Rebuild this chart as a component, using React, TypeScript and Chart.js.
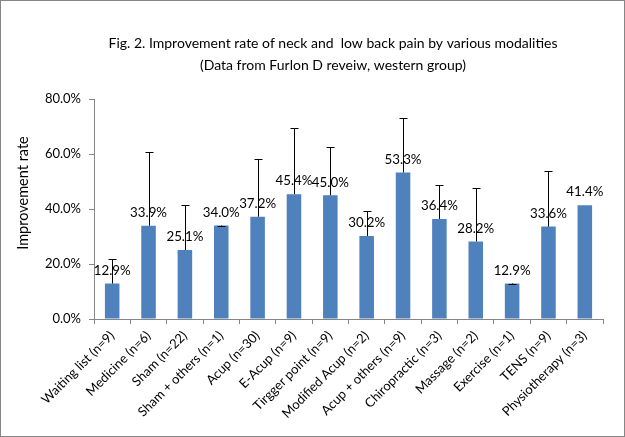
import React, { useEffect, useRef } from 'react';
import { Chart, registerables } from 'chart.js';

Chart.register(...registerables);

const titleLines = [
  'Fig. 2. Improvement rate of neck and  low back pain by various modalities',
  '(Data from Furlon D reveiw, western group)',
];
const yAxisTitle = 'Improvement rate';
const categories = [
  'Waiting list (n=9)',
  'Medicine (n=6)',
  'Sham (n=22)',
  'Sham + others (n=1)',
  'Acup (n=30)',
  'E-Acup (n=9)',
  'Tirgger point (n=9)',
  'Modified Acup (n=2)',
  'Acup + others (n=9)',
  'Chiropractic (n=3)',
  'Massage (n=2)',
  'Exercise (n=1)',
  'TENS (n=9)',
  'Physiotherapy (n=3)',
];
const values = [12.9, 33.9, 25.1, 34.0, 37.2, 45.4, 45.0, 30.2, 53.3, 36.4, 28.2, 12.9, 33.6, 41.4];
const errorPlus: (number | null)[] = [9.1, 27.0, 16.5, 0, 21.1, 24.1, 17.6, 9.2, 19.9, 12.5, 19.6, 0, 20.4, null];
const yTicks = [0, 20, 40, 60, 80];

const FONT = 'Lato, "Liberation Sans", sans-serif';
const AXIS_COLOR = '#868686';
const BAR_COLOR = '#4F81BD';

const extrasPlugin = {
  id: 'extras',
  afterDatasetsDraw(chart: any) {
    const ctx = chart.ctx;
    const meta = chart.getDatasetMeta(0);
    const yScale = chart.scales.y;
    ctx.save();
    // error bars (plus only)
    ctx.strokeStyle = '#000';
    ctx.lineWidth = 1;
    meta.data.forEach((bar: any, i: number) => {
      const e = errorPlus[i];
      if (e === null || e === undefined) return;
      const x = Math.round(bar.x) + 0.5;
      const yTop = Math.round(yScale.getPixelForValue(values[i] + e)) + 0.5;
      const yBar = yScale.getPixelForValue(values[i]);
      ctx.beginPath();
      ctx.moveTo(x, yBar);
      ctx.lineTo(x, yTop);
      ctx.moveTo(x - 4, yTop);
      ctx.lineTo(x + 4, yTop);
      ctx.stroke();
    });
    // data labels
    ctx.fillStyle = '#000';
    ctx.font = `13.3px ${FONT}`;
    ctx.textAlign = 'center';
    ctx.textBaseline = 'middle';
    meta.data.forEach((bar: any, i: number) => {
      ctx.fillText(values[i].toFixed(1) + '%', bar.x, bar.y - 13);
    });
    ctx.restore();
  },
  afterDraw(chart: any) {
    const ctx = chart.ctx;
    ctx.save();
    ctx.fillStyle = '#000';
    ctx.font = `14px ${FONT}`;
    ctx.textAlign = 'center';
    ctx.textBaseline = 'middle';
    ctx.fillText(titleLines[0], 333, 43);
    ctx.fillText(titleLines[1], 333, 65);
    // y axis title
    ctx.font = `14.5px ${FONT}`;
    ctx.translate(23, 193);
    ctx.rotate(-Math.PI / 2);
    ctx.fillText(yAxisTitle, 0, 0);
    ctx.restore();
    // outer border
    ctx.save();
    ctx.strokeStyle = AXIS_COLOR;
    ctx.lineWidth = 1;
    ctx.strokeRect(0.5, 0.5, chart.width - 1, chart.height - 1);
    ctx.restore();
  },
};

export default function App() {
  const ref = useRef<HTMLCanvasElement | null>(null);
  useEffect(() => {
    if (!ref.current) return;
    const chart = new Chart(ref.current, {
      type: 'bar',
      data: {
        labels: categories,
        datasets: [
          {
            data: values,
            backgroundColor: BAR_COLOR,
            borderWidth: 0,
            barPercentage: 0.4,
            categoryPercentage: 1,
          },
        ],
      },
      options: {
        responsive: false,
        animation: false,
        devicePixelRatio: 1,
        layout: { padding: { top: 99, right: 22, left: 0, bottom: 0 } },
        plugins: {
          legend: { display: false },
          tooltip: { enabled: false },
          title: { display: false },
        },
        scales: {
          x: {
            grid: { drawOnChartArea: false, drawTicks: true, tickLength: 5, color: AXIS_COLOR, offset: true },
            border: { color: AXIS_COLOR },
            ticks: {
              minRotation: 45,
              maxRotation: 45,
              autoSkip: false,
              color: '#000',
              font: { family: FONT, size: 13 },
              padding: 4,
            },
            afterFit: (s: any) => {
              s.height = 118;
            },
          },
          y: {
            min: 0,
            max: 80,
            afterBuildTicks: (s: any) => {
              s.ticks = yTicks.map((v) => ({ value: v }));
            },
            ticks: {
              callback: (v: any) => Number(v).toFixed(1) + '%',
              color: '#000',
              font: { family: FONT, size: 13 },
              padding: 8,
            },
            grid: { drawOnChartArea: false, drawTicks: true, tickLength: 5, color: AXIS_COLOR },
            border: { color: AXIS_COLOR },
            afterFit: (s: any) => {
              s.width = 94;
            },
          },
        },
      },
      plugins: [extrasPlugin],
    });
    return () => chart.destroy();
  }, []);
  return (
    <div style={{ position: 'fixed', left: 0, top: 0, width: 625, height: 437, background: '#fff' }}>
      <canvas ref={ref} width={625} height={437} />
    </div>
  );
}
